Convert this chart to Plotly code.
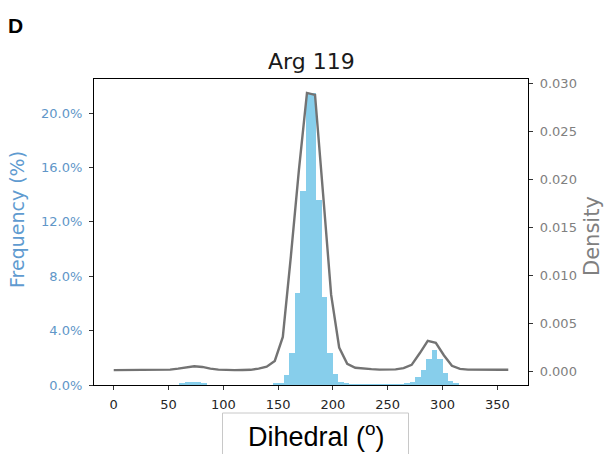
import numpy as np
import plotly.graph_objects as go

# ---------------- data ----------------
# histogram: 5-degree bins, left edges (deg) and frequency (%)
bin_width = 5
bin_left = [60, 65, 70, 75, 80,
            145, 150, 155, 160, 165, 170, 175, 180, 185, 190, 195, 200, 205, 210,
            215, 220, 225, 230, 235, 240, 245, 250, 255, 260,
            265, 270, 275, 280, 285, 290, 295, 300, 305, 310]
freq_pct = [0.1, 0.2, 0.2, 0.2, 0.1,
            0.08, 0.12, 0.7, 2.35, 6.8, 14.3, 21.5, 21.5, 13.6, 6.5, 2.35, 0.8, 0.25, 0.1,
            0.05, 0.04, 0.04, 0.04, 0.04, 0.04, 0.04, 0.04, 0.05, 0.06,
            0.1, 0.25, 0.6, 1.1, 1.9, 2.55, 1.9, 0.86, 0.3, 0.1]

# density curve (KDE) sampled on 50 points from 0 to 360 deg
kde_x = list(np.linspace(0, 360, 50))
kde_y = [0.00015, 0.00015, 0.00015, 0.00015, 0.00015, 0.00015, 0.00017, 0.00020, 0.00030, 0.00045,
         0.00055, 0.00048, 0.00030, 0.00020, 0.00016, 0.00015, 0.00016, 0.00018, 0.00030, 0.00050,
         0.00110, 0.00360, 0.01200, 0.02100, 0.02900, 0.02880, 0.01850, 0.00800, 0.00250, 0.00080,
         0.00040, 0.00030, 0.00025, 0.00020, 0.00020, 0.00023, 0.00035, 0.00070, 0.00190, 0.00320,
         0.00300, 0.00170, 0.00060, 0.00028, 0.00020, 0.00018, 0.00018, 0.00018, 0.00018, 0.00018]

x_ticks = [0, 50, 100, 150, 200, 250, 300, 350]
freq_ticks = [0, 4, 8, 12, 16, 20]
freq_tick_text = ["0.0%", "4.0%", "8.0%", "12.0%", "16.0%", "20.0%"]
dens_ticks = [0.0, 0.005, 0.010, 0.015, 0.020, 0.025, 0.030]
dens_tick_text = ["0.000", "0.005", "0.010", "0.015", "0.020", "0.025", "0.030"]

title_text = "Arg 119"
panel_letter = "D"
x_label = "Dihedral (<sup>o</sup>)"
y_label = "Frequency (%)"
y2_label = "Density"

# ---------------- figure ----------------
W, H = 608, 454
L, R, T, B = 94, 80, 79, 69
pw, ph = W - L - R, H - T - B

def px2paper(px, py):
    return (px - L) / pw, (H - B - py) / ph

bar_color = "#87CEEB"
line_color = "#737373"
blue_txt = "#6096c8"
gray_txt = "#808080"

fig = go.Figure()
fig.add_trace(go.Bar(
    x=[b + bin_width / 2 for b in bin_left], y=freq_pct, width=bin_width,
    marker=dict(color=bar_color, line=dict(width=0)), yaxis="y", showlegend=False,
))
fig.add_trace(go.Scatter(
    x=kde_x, y=kde_y, mode="lines", line=dict(color=line_color, width=2.4),
    yaxis="y2", showlegend=False,
))

tick_font = dict(family="DejaVu Sans", size=13)
fig.update_layout(
    width=W, height=H,
    margin=dict(l=L, r=R, t=T, b=B),
    plot_bgcolor="white", paper_bgcolor="white",
    bargap=0,
    xaxis=dict(range=[-18, 378], tickvals=x_ticks, showgrid=False, zeroline=False,
               showline=True, linecolor="black", linewidth=1.2, mirror=True,
               ticks="outside", ticklen=4, tickcolor="#333", tickwidth=1,
               ticklabelstandoff=3,
               tickfont=dict(tick_font, color="#262626")),
    yaxis=dict(range=[0, 22.5], tickvals=freq_ticks, ticktext=freq_tick_text,
               showgrid=False, zeroline=False, showline=True, linecolor="black",
               linewidth=1.2, ticks="outside", ticklen=4, tickcolor="#333",
               ticklabelstandoff=4,
               tickfont=dict(tick_font, color=blue_txt)),
    yaxis2=dict(range=[-0.0014, 0.03045], tickvals=dens_ticks, ticktext=dens_tick_text,
                overlaying="y", side="right", showgrid=False, zeroline=False,
                showline=True, linecolor="black", linewidth=1.2, ticks="outside",
                ticklen=4, tickcolor="#333", ticklabelstandoff=4,
                tickfont=dict(tick_font, color=gray_txt)),
)

annots = []
tx, ty = px2paper(311, 62)
annots.append(dict(text=title_text, x=tx, y=ty, xref="paper", yref="paper",
                   showarrow=False, xanchor="center", yanchor="middle",
                   font=dict(family="DejaVu Sans", size=22, color="#1a1a1a")))
dx, dy = px2paper(15, 26)
annots.append(dict(text="<b>" + panel_letter + "</b>", x=dx, y=dy, xref="paper", yref="paper",
                   showarrow=False, xanchor="center", yanchor="middle",
                   font=dict(family="Liberation Sans", size=21, color="black")))
fx, fy = px2paper(17, 220)
annots.append(dict(text=y_label, x=fx, y=fy, xref="paper", yref="paper", textangle=-90,
                   showarrow=False, xanchor="center", yanchor="middle",
                   font=dict(family="DejaVu Sans", size=19, color="#5f9bd0")))
gx, gy = px2paper(592, 236)
annots.append(dict(text=y2_label, x=gx, y=gy, xref="paper", yref="paper", textangle=-90,
                   showarrow=False, xanchor="center", yanchor="middle",
                   font=dict(family="DejaVu Sans", size=21, color=gray_txt)))
lx, ly = px2paper(316, 435)
annots.append(dict(text=x_label, x=lx, y=ly, xref="paper", yref="paper",
                   showarrow=False, xanchor="center", yanchor="middle",
                   font=dict(family="Liberation Sans", size=27, color="black")))
fig.update_layout(annotations=annots)

bx0, by0 = px2paper(222.5, 413)
bx1, by1 = px2paper(408.5, 470)
fig.add_shape(type="rect", xref="paper", yref="paper", x0=bx0, x1=bx1, y0=by1, y1=by0,
              line=dict(color="#c8c8c8", width=1), fillcolor="rgba(0,0,0,0)", layer="below")

fig.write_html("out.html")
